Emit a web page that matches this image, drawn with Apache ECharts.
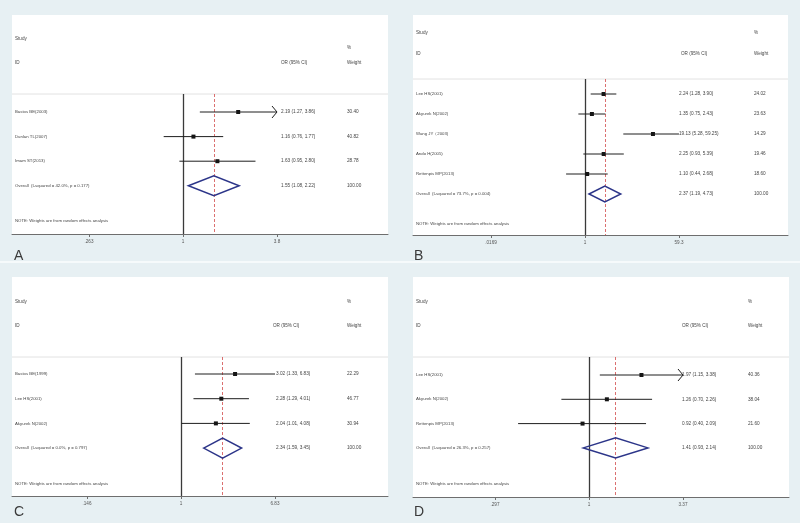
<!DOCTYPE html>
<html><head><meta charset="utf-8">
<script src="https://cdn.jsdelivr.net/npm/echarts@6/dist/echarts.min.js"></script>
<style>html,body{margin:0;padding:0;background:#e7f0f3}#c{width:800px;height:523px}</style>
</head><body><div id="c"></div>
<script>
// ---------- DATA ----------
// Panel A
const studiesA = ['Bastos BE(2003)', 'Dunlan TL(2007)', 'Imam ST(2013)'];
const orA = [2.19, 1.16, 1.63];
const loA = [1.27, 0.76, 0.95];
const hiA = [3.86, 1.77, 2.80];
const weightsA = [30.40, 40.82, 28.78];
const overallA = [1.55, 1.08, 2.22];
const overallLabelA = 'Overall  (I-squared = 42.0%, p = 0.177)';
const tickLabelsA = ['.263', '1', '3.8'];
const tickMaxA = 3.8;
// Panel B
const studiesB = ['Lee HS(2001)', 'Akyurek N(2002)', 'Wang JY\uff082003)', 'Ando H(2005)', 'Rettenpis MP(2013)'];
const orB = [2.24, 1.35, 19.13, 2.25, 1.10];
const loB = [1.28, 0.75, 5.28, 0.93, 0.44];
const hiB = [3.90, 2.43, 59.25, 5.39, 2.68];
const weightsB = [24.02, 23.63, 14.29, 19.46, 18.60];
const overallB = [2.37, 1.19, 4.73];
const overallLabelB = 'Overall  (I-squared = 73.7%, p = 0.004)';
const tickLabelsB = ['.0169', '1', '59.3'];
const tickMaxB = 59.3;
// Panel C
const studiesC = ['Bastos BE(1999)', 'Lee HS(2001)', 'Akyurek N(2002)'];
const orC = [3.02, 2.28, 2.04];
const loC = [1.33, 1.29, 1.01];
const hiC = [6.83, 4.01, 4.08];
const weightsC = [22.29, 46.77, 30.94];
const overallC = [2.34, 1.59, 3.45];
const overallLabelC = 'Overall  (I-squared = 0.0%, p = 0.797)';
const tickLabelsC = ['.146', '1', '6.83'];
const tickMaxC = 6.83;
// Panel D
const studiesD = ['Lee HS(2001)', 'Akyurek N(2002)', 'Rettenpis MP(2013)'];
const orD = [1.97, 1.26, 0.92];
const loD = [1.15, 0.70, 0.40];
const hiD = [3.38, 2.26, 2.09];
const weightsD = [40.36, 38.04, 21.60];
const overallD = [1.41, 0.93, 2.14];
const overallLabelD = 'Overall  (I-squared = 26.3%, p = 0.257)';
const tickLabelsD = ['.297', '1', '3.37'];
const tickMaxD = 3.37;

const headerStudy = 'Study', headerID = 'ID', headerOR = 'OR (95% CI)', headerPct = '%', headerW = 'Weight';
const noteText = 'NOTE: Weights are from random effects analysis';

// ---------- LAYOUT ----------
const layA = {bx:12, by:15, bw:376, bh:219, sep:94, x0:183, half:94, r0:112, dy:24.6, noteY:221,
  studyY:39, idY:63, pctY:48, wY:63, nameX:15, orHX:281, orX:281, wX:347, letter:[14,256], dh:10};
const layB = {bx:413, by:15, bw:375, bh:220, sep:79, x0:585, half:94, r0:94, dy:20, noteY:224,
  studyY:33, idY:54, pctY:33, wY:54, nameX:416, orHX:681, orX:679, wX:754, letter:[414,256], dh:8};
const layC = {bx:12, by:277, bw:376, bh:219, sep:357, x0:181, half:94, r0:374, dy:24.7, noteY:484,
  studyY:302, idY:326, pctY:302, wY:326, nameX:15, orHX:273, orX:276, wX:347, letter:[14,512], dh:10};
const layD = {bx:413, by:277, bw:376, bh:220, sep:357, x0:589, half:94, r0:375, dy:24.3, noteY:484,
  studyY:302, idY:326, pctY:302, wY:326, nameX:416, orHX:682, orX:682, wX:748, letter:[414,512], dh:10};

const panels = [
  {letter:'A', studies:studiesA, or:orA, lo:loA, hi:hiA, w:weightsA, overall:overallA, overallLabel:overallLabelA, ticks:tickLabelsA, tickMax:tickMaxA, lay:layA},
  {letter:'B', studies:studiesB, or:orB, lo:loB, hi:hiB, w:weightsB, overall:overallB, overallLabel:overallLabelB, ticks:tickLabelsB, tickMax:tickMaxB, lay:layB},
  {letter:'C', studies:studiesC, or:orC, lo:loC, hi:hiC, w:weightsC, overall:overallC, overallLabel:overallLabelC, ticks:tickLabelsC, tickMax:tickMaxC, lay:layC},
  {letter:'D', studies:studiesD, or:orD, lo:loD, hi:hiD, w:weightsD, overall:overallD, overallLabel:overallLabelD, ticks:tickLabelsD, tickMax:tickMaxD, lay:layD}
];

const FONT = 'Liberation Sans, Arial, sans-serif';
const TXT = '#454545';
const FS_NAME = 4.3, FS_NUM = 4.7, FS_HDR = 4.6;
const fmt = v => v.toFixed(2);
const ciText = (e, l, h) => fmt(e) + ' (' + fmt(l) + ', ' + fmt(h) + ')';

const chart = echarts.init(document.getElementById('c'), null, {renderer:'canvas'});
const grids = [], xAxes = [], yAxes = [], series = [], graphics = [];

graphics.push({type:'rect', shape:{x:0, y:261, width:800, height:2}, style:{fill:'#f6fafb'}, z:-200, silent:true});

function gText(x, y, text, size, color) {
  return {type:'text', x:x, y:y, z:50, silent:true,
    style:{text:text, fill:color || TXT, fontSize:size || FS_HDR, fontFamily:FONT, verticalAlign:'middle', align:'left'}};
}

panels.forEach((p, k) => {
  const g = p.lay;
  const L = Math.log(p.tickMax);
  const axisY = g.by + g.bh;
  graphics.push({type:'rect', shape:{x:g.bx, y:g.by, width:g.bw, height:g.bh}, style:{fill:'#ffffff'}, z:-100, silent:true});
  graphics.push({type:'line', shape:{x1:g.bx, y1:g.sep, x2:g.bx + g.bw, y2:g.sep}, style:{stroke:'#e2e2e2', lineWidth:1}, z:-90, silent:true});
  graphics.push(gText(g.nameX, g.studyY, headerStudy));
  graphics.push(gText(g.nameX, g.idY, headerID));
  graphics.push(gText(g.orHX, g.idY, headerOR));
  graphics.push(gText(g.wX, g.pctY, headerPct));
  graphics.push(gText(g.wX, g.wY, headerW));
  graphics.push(gText(g.nameX, g.noteY, noteText, FS_NAME));
  graphics.push(gText(g.letter[0], g.letter[1], p.letter, 14, '#3a3a3a'));

  grids.push({left:g.bx, top:g.sep, width:g.bw, height:axisY - g.sep, containLabel:false});
  xAxes.push({
    gridIndex:k, type:'value',
    min: -(g.x0 - g.bx) / g.half * L,
    max: (g.bx + g.bw - g.x0) / g.half * L,
    axisLine:{show:true, onZero:false, lineStyle:{color:'#6e6e6e', width:1}},
    axisTick:{show:true, customValues:[-L, 0, L], length:3, lineStyle:{color:'#6e6e6e'}},
    axisLabel:{show:true, customValues:[-L, 0, L], fontSize:4.6, color:'#555', margin:5, fontFamily:FONT,
      formatter: v => (v < -1e-9 ? p.ticks[0] : (v > 1e-9 ? p.ticks[2] : p.ticks[1]))},
    splitLine:{show:false}
  });
  yAxes.push({gridIndex:k, type:'value', inverse:true, show:false,
    min:(g.sep - g.r0) / g.dy, max:(axisY - g.r0) / g.dy});

  series.push({type:'line', xAxisIndex:k, yAxisIndex:k, data:[], silent:true, animation:false,
    markLine:{silent:true, symbol:'none', animation:false, label:{show:false},
      data:[
        {xAxis:0, lineStyle:{color:'#3a3a3a', width:1.3, type:'solid'}},
        {xAxis:Math.log(p.overall[0]), lineStyle:{color:'#d24b4b', width:0.8, type:[3, 2]}}
      ]}});

  const n = p.or.length;
  const rows = p.or.map((v, i) => [Math.log(v), Math.log(p.lo[i]), Math.log(p.hi[i]), i, 0]);
  rows.push([Math.log(p.overall[0]), Math.log(p.overall[1]), Math.log(p.overall[2]), n, 1]);
  const wSum = p.w.reduce((a, b) => a + b, 0);

  series.push({type:'custom', xAxisIndex:k, yAxisIndex:k, data:rows, clip:false, silent:true, animation:false, z:5,
    renderItem:(params, api) => {
      const idx = params.dataIndex;
      const row = api.value(3);
      const kind = api.value(4);
      const e = api.value(0), lo = api.value(1), hi = api.value(2);
      const pe = api.coord([e, row]);
      const pl = api.coord([Math.max(lo, -L), row]);
      const ph = api.coord([Math.min(hi, L), row]);
      const y = pe[1];
      const children = [];
      if (kind === 0) {
        children.push({type:'line', shape:{x1:pl[0], y1:y, x2:ph[0], y2:y}, style:{stroke:'#1e1e1e', lineWidth:1}});
        if (hi > L) {
          children.push({type:'polyline', shape:{points:[[ph[0] - 5, y - 6], [ph[0], y], [ph[0] - 5, y + 6]]},
            style:{stroke:'#1e1e1e', lineWidth:1, fill:'none'}});
        }
        children.push({type:'rect', shape:{x:pe[0] - 2, y:y - 2, width:4, height:4}, style:{fill:'#151515'}});
      } else {
        children.push({type:'polygon', shape:{points:[[pl[0], y], [pe[0], y - g.dh], [ph[0], y], [pe[0], y + g.dh]]},
          style:{stroke:'#2c3589', lineWidth:1.5, fill:'none'}});
      }
      const name = kind === 0 ? p.studies[idx] : p.overallLabel;
      const orT = kind === 0 ? ciText(p.or[idx], p.lo[idx], p.hi[idx]) : ciText(p.overall[0], p.overall[1], p.overall[2]);
      const wT = kind === 0 ? fmt(p.w[idx]) : fmt(wSum);
      const base = {fill:TXT, fontFamily:FONT, verticalAlign:'middle', align:'left'};
      children.push({type:'text', x:g.nameX, y:y, style:Object.assign({text:name, fontSize:FS_NAME}, base)});
      children.push({type:'text', x:g.orX, y:y, style:Object.assign({text:orT, fontSize:FS_NUM}, base)});
      children.push({type:'text', x:g.wX, y:y, style:Object.assign({text:wT, fontSize:FS_NUM}, base)});
      return {type:'group', children:children};
    }});
});

chart.setOption({
  backgroundColor:'#e7f0f3',
  animation:false,
  grid:grids, xAxis:xAxes, yAxis:yAxes, series:series,
  graphic:{elements:graphics}
});
</script>
</body></html>
